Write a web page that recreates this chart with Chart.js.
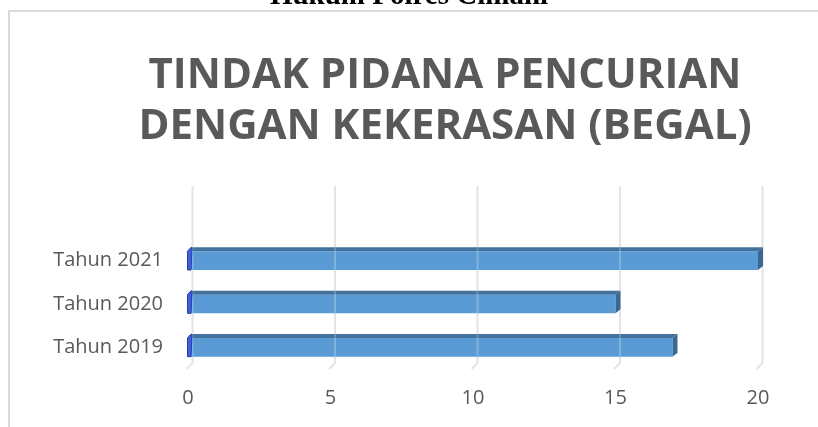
<!DOCTYPE html>
<html>
<head>
<meta charset="utf-8">
<script src="https://cdn.jsdelivr.net/npm/chart.js@4.4.1/dist/chart.umd.min.js"></script>
<style>
  html, body { margin: 0; padding: 0; background: #ffffff; }
  #wrap { width: 818px; height: 427px; position: relative; }
</style>
</head>
<body>
<div id="wrap"><canvas id="c" width="818" height="427"></canvas></div>
<script>
const categories = ["Tahun 2021", "Tahun 2020", "Tahun 2019"];
const values = [20, 15, 17];
const xTicks = [0, 5, 10, 15, 20];
const titleLines = ["TINDAK PIDANA PENCURIAN", "DENGAN KEKERASAN (BEGAL)"];
const headerText = "Hukum Polres Cimahi";

const DEPTH_X = 5, DEPTH_Y = 4;

const framePlugin = {
  id: 'frame',
  afterLayout(chart) {
    // the title is centred on the plot frame, not on the whole canvas
    if (chart.titleBlock) {
      chart.titleBlock.left = 72;
      chart.titleBlock.right = 818;
    }
  },
  beforeDraw(chart) {
    const ctx = chart.ctx;
    ctx.save();
    ctx.fillStyle = '#ffffff';
    ctx.fillRect(0, 0, chart.width, chart.height);
    // page header (cut off)
    ctx.fillStyle = '#000000';
    ctx.font = 'bold 29px "Liberation Serif", "Times New Roman", serif';
    ctx.textAlign = 'center';
    ctx.textBaseline = 'alphabetic';
    ctx.fillText(headerText, 409, 4);
    // chart frame
    ctx.strokeStyle = '#d9d9d9';
    ctx.lineWidth = 2;
    ctx.beginPath();
    ctx.moveTo(9, chart.height);
    ctx.lineTo(9, 11);
    ctx.lineTo(chart.width + 2, 11);
    ctx.stroke();
    ctx.restore();
  },
  beforeDatasetsDraw(chart) {
    const ctx = chart.ctx;
    const xs = chart.scales.x;
    const area = chart.chartArea;
    ctx.save();
    ctx.strokeStyle = '#e4e4e4';
    ctx.lineWidth = 2;
    xTicks.forEach(v => {
      const px = xs.getPixelForValue(v);
      ctx.beginPath();
      ctx.moveTo(px + 4.5, 186);
      ctx.lineTo(px + 4.5, area.bottom - 6);
      ctx.lineTo(px - 1.5, area.bottom);
      ctx.stroke();
    });
    ctx.restore();
  },
  afterDatasetsDraw(chart) {
    const ctx = chart.ctx;
    const xs = chart.scales.x;
    const meta = chart.getDatasetMeta(0);
    ctx.save();
    meta.data.forEach(bar => {
      const p = bar.getProps(['x', 'y', 'base', 'height'], true);
      const top = p.y - p.height / 2;
      const bottom = p.y + p.height / 2;
      const x0 = p.base, x1 = p.x;
      // top face
      ctx.fillStyle = '#41719c';
      ctx.beginPath();
      ctx.moveTo(x0, top);
      ctx.lineTo(x1, top);
      ctx.lineTo(x1 + DEPTH_X, top - DEPTH_Y);
      ctx.lineTo(x0 + DEPTH_X, top - DEPTH_Y);
      ctx.closePath();
      ctx.fill();
      // side face
      ctx.fillStyle = '#3a6894';
      ctx.beginPath();
      ctx.moveTo(x1, top);
      ctx.lineTo(x1 + DEPTH_X, top - DEPTH_Y);
      ctx.lineTo(x1 + DEPTH_X, bottom - DEPTH_Y);
      ctx.lineTo(x1, bottom);
      ctx.closePath();
      ctx.fill();
      // faint grid lines showing through
      ctx.strokeStyle = 'rgba(255,255,255,0.22)';
      ctx.lineWidth = 2;
      xTicks.forEach(v => {
        const gx = xs.getPixelForValue(v) + 4.5;
        if (gx > x0 + 2 && gx < x1 - 1) {
          ctx.beginPath();
          ctx.moveTo(gx, top - DEPTH_Y);
          ctx.lineTo(gx, bottom);
          ctx.stroke();
        }
      });
      // left cap
      ctx.fillStyle = '#3f5fe0';
      ctx.strokeStyle = '#2a3f9c';
      ctx.lineWidth = 1;
      ctx.beginPath();
      ctx.moveTo(x0 + 2, top - DEPTH_Y + 1);
      ctx.lineTo(x0 + 4, top - DEPTH_Y);
      ctx.lineTo(x0 + 3, bottom);
      ctx.lineTo(x0 - 0.5, bottom);
      ctx.lineTo(x0 - 0.5, top);
      ctx.closePath();
      ctx.fill();
      ctx.stroke();
    });
    ctx.restore();
  }
};

new Chart(document.getElementById('c'), {
  type: 'bar',
  data: {
    labels: categories,
    datasets: [{
      data: values,
      backgroundColor: '#5b9bd5',
      borderWidth: 0,
      categoryPercentage: 1,
      barPercentage: 0.43
    }]
  },
  options: {
    indexAxis: 'y',
    responsive: false,
    animation: false,
    devicePixelRatio: 1,
    layout: { padding: { left: 40, right: 60, top: 0, bottom: 0 } },
    plugins: {
      legend: { display: false },
      tooltip: { enabled: false },
      title: {
        display: true,
        text: titleLines,
        color: '#595959',
        font: { family: '"Open Sans", sans-serif', size: 42, weight: 'bold', lineHeight: '51px' },
        padding: { top: 51, bottom: 86 }
      }
    },
    scales: {
      x: {
        min: 0, max: 20,
        afterBuildTicks(scale) { scale.ticks = xTicks.map(v => ({ value: v })); },
        grid: { display: false, drawTicks: false },
        border: { display: false },
        ticks: {
          color: '#595959',
          padding: 17,
          font: { family: '"Open Sans", sans-serif', size: 20 }
        }
      },
      y: {
        afterFit(scale) { scale.width = 148; },
        grid: { display: false, drawTicks: false },
        border: { display: false },
        ticks: {
          color: '#595959',
          padding: 25,
          font: { family: '"Open Sans", sans-serif', size: 20 }
        }
      }
    }
  },
  plugins: [framePlugin]
});
</script>
</body>
</html>
